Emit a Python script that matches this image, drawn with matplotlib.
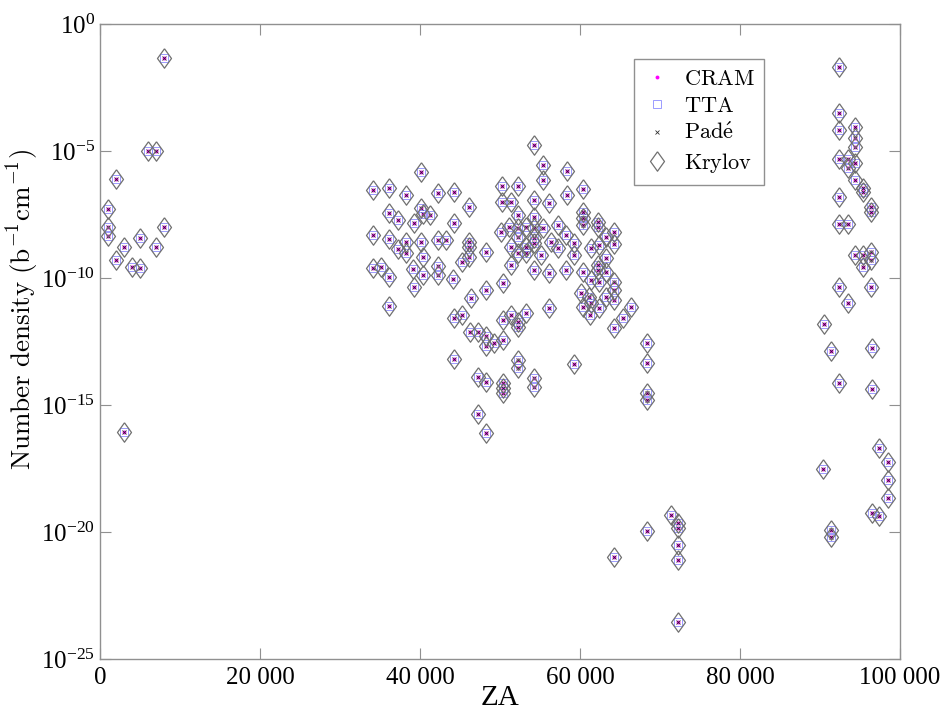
import numpy as np
import matplotlib
matplotlib.use('Agg')
import matplotlib.pyplot as plt
from matplotlib.font_manager import FontProperties
from matplotlib.ticker import FixedLocator, FuncFormatter, LogFormatterMathtext

plt.rcParams['font.family'] = ['Liberation Serif', 'DejaVu Serif']
plt.rcParams['mathtext.fontset'] = 'stix'

# light nuclides
za_light = [8016, 6012, 7014, 2004, 1001, 1001, 1001, 8016, 3007, 5011,
            7014, 2004, 4009, 5011, 3007]
logn_light = [-1.35, -5.00, -5.00, -6.10, -7.28, -7.99, -8.35, -7.99, -8.79, -8.44,
              -8.79, -9.29, -9.55, -9.59, -16.06]

# fission products
za_fp = [40080, 34080, 36080, 38205, 42205, 44205, 46080, 36080, 37205, 40080,
         40330, 41205, 39205, 44205, 34080, 36080, 38205, 37205, 38205, 40080,
         42205, 43205, 46080, 46080, 46080, 45205, 48205, 40330, 34080, 35080,
         36080, 39080, 40330, 42205, 42205, 44080, 39205, 46330, 48205, 36080,
         44205, 45205, 46205, 47205, 48205, 48205, 49205, 50330, 44205, 47205,
         48205, 50330, 50330, 50330, 47205, 48205,
         54205, 55330, 55330, 58330, 50205, 52205, 60330, 58330, 56080, 54205,
         50205, 51330, 52205, 54205, 60330, 60330, 60330, 62205, 62205, 64205,
         64205, 63205, 57205, 58205, 50080, 51080, 52205, 53205, 54205, 55330,
         54205, 54205, 52205, 56330, 57205, 59205, 61330, 62330, 51330, 52205,
         53205, 53205, 55080, 59205, 63205, 62205, 62205, 63205, 51330, 54205,
         56080, 58205, 60330, 61330, 62330, 64205, 64205, 50330, 60080, 61080,
         60330, 61330, 62330, 63205, 64205, 56080, 66330, 65330, 64205, 50330,
         51330, 52205, 52205, 53205, 61205, 68330, 68330, 68330, 68330, 59205,
         52205, 52205, 54205, 54205,
         71330, 72205, 72205, 68330, 72205, 72205, 64205, 72205]
logn_fp = [-5.81, -6.54, -6.46, -6.73, -6.65, -6.61, -7.20, -7.44, -7.72, -7.24,
           -7.48, -7.52, -7.83, -7.83, -8.31, -8.46, -8.58, -8.86, -9.02, -8.58,
           -8.50, -8.50, -8.58, -8.78, -9.17, -9.37, -8.98, -9.17, -9.61, -9.57,
           -9.96, -9.65, -9.88, -9.53, -9.88, -10.04, -10.35, -10.79, -10.47, -11.10,
           -11.57, -11.46, -12.13, -12.13, -12.28, -12.68, -12.56, -12.44, -13.19, -13.90,
           -14.09, -14.13, -14.33, -14.53, -15.35, -16.10,
           -4.76, -5.55, -6.14, -5.79, -6.38, -6.38, -6.50, -6.73, -7.05, -6.93,
           -7.01, -7.01, -7.52, -7.60, -7.40, -7.64, -7.91, -7.80, -7.99, -8.19,
           -8.66, -8.39, -7.91, -8.31, -8.19, -7.99, -8.03, -7.99, -8.03, -8.03,
           -8.43, -8.62, -8.39, -8.58, -8.82, -8.62, -8.82, -8.70, -8.78, -9.02,
           -9.02, -8.78, -9.09, -9.09, -9.21, -9.49, -9.69, -9.76, -9.49, -9.69,
           -9.80, -9.69, -9.76, -10.08, -10.16, -10.16, -10.47, -10.20, -10.59, -10.75,
           -11.14, -10.98, -11.18, -10.75, -10.87, -11.18, -11.14, -11.57, -11.97, -11.65,
           -11.46, -11.73, -11.93, -11.38, -11.46, -12.56, -13.35, -14.53, -14.80, -13.39,
           -13.23, -13.54, -13.94, -14.29,
           -19.33, -19.65, -19.84, -19.96, -20.51, -21.10, -20.98, -23.54]

# actinides
za_act = [92330, 92330, 92330, 94330, 94330, 94330, 92330, 93455, 94330, 93455,
          94330, 95330, 95330, 96330, 96330, 92330, 92330, 93455, 94330, 95330,
          96330, 96330, 95330, 92330, 96330, 93455, 90455, 91330, 96455, 92330,
          96455, 97330, 98455, 90330, 98455, 98455, 96455, 97330, 91330, 91330]
logn_act = [-1.69, -3.50, -4.17, -4.06, -4.49, -4.84, -5.31, -5.31, -5.47, -5.67,
            -6.14, -6.61, -6.46, -7.20, -7.40, -6.81, -7.87, -7.87, -9.09, -9.09,
            -8.98, -9.29, -9.57, -10.35, -10.35, -10.98, -11.81, -12.87, -12.76, -14.13,
            -14.37, -16.69, -17.24, -17.52, -17.95, -18.66, -19.25, -19.37, -19.92, -20.20]

methods = ['CRAM', 'TTA', "Pad\\'e", 'Krylov']

za = np.array(za_light + za_fp + za_act)
density = 10.0 ** np.array(logn_light + logn_fp + logn_act)

fig = plt.figure(figsize=(9.43, 7.15), dpi=100)
ax = fig.add_axes([0.106, 0.0783, 0.8484, 0.8881])

diamond = [(0, 1), (0.72, 0), (0, -1), (-0.72, 0), (0, 1)]

ax.semilogy(za, density, linestyle='none', marker='o', ms=2.8, mew=0,
            color='#ff00ff', label=r'$\mathrm{%s}$' % methods[0])
ax.semilogy(za, density, linestyle='none', marker='s', ms=5.5, mew=0.6,
            mfc='none', mec='#8c8cff', label=r'$\mathrm{%s}$' % methods[1])
ax.semilogy(za, density, linestyle='none', marker='x', ms=3.2, mew=0.6,
            color='#303030', label=r'$\mathrm{%s}$' % methods[2])
ax.semilogy(za, density, linestyle='none', marker=diamond, ms=14, mew=0.9,
            mfc='none', mec='#707070', label=r'$\mathrm{%s}$' % methods[3])

ax.set_xlim(0, 100000)
ax.set_ylim(1e-25, 1e0)
ax.xaxis.set_major_locator(FixedLocator([0, 20000, 40000, 60000, 80000, 100000]))
ax.xaxis.set_major_formatter(FuncFormatter(lambda v, p: f'{int(v):,}'.replace(',', ' ')))
ax.yaxis.set_major_locator(FixedLocator([1e0, 1e-5, 1e-10, 1e-15, 1e-20, 1e-25]))
ax.yaxis.set_major_formatter(LogFormatterMathtext())
ax.yaxis.set_minor_locator(FixedLocator([]))

ax.tick_params(axis='both', which='major', direction='in', length=8, width=0.8,
               color='#909090', labelsize=18, top=True, right=True)
ax.tick_params(axis='x', pad=6)
for s in ax.spines.values():
    s.set_color('#909090')
    s.set_linewidth(1.0)

ax.set_xlabel('ZA', fontsize=21, labelpad=-3)
ax.set_ylabel(r'$\mathrm{Number\ density\ (b^{-1}cm^{-1})}$',
              fontproperties=FontProperties(size=19.5, math_fontfamily='cm'))
ax.yaxis.set_label_coords(-0.072, 0.55)

leg = ax.legend(loc='upper left', bbox_to_anchor=(0.672, 0.9175),
                bbox_transform=fig.transFigure, borderaxespad=0,
                prop=FontProperties(size=16, math_fontfamily='cm'),
                fancybox=False, edgecolor='#909090', framealpha=1,
                handlelength=1.2, handletextpad=0.6, labelspacing=0.3,
                borderpad=0.45)
leg.get_frame().set_linewidth(1.0)

fig.savefig('out.png', dpi=100)
